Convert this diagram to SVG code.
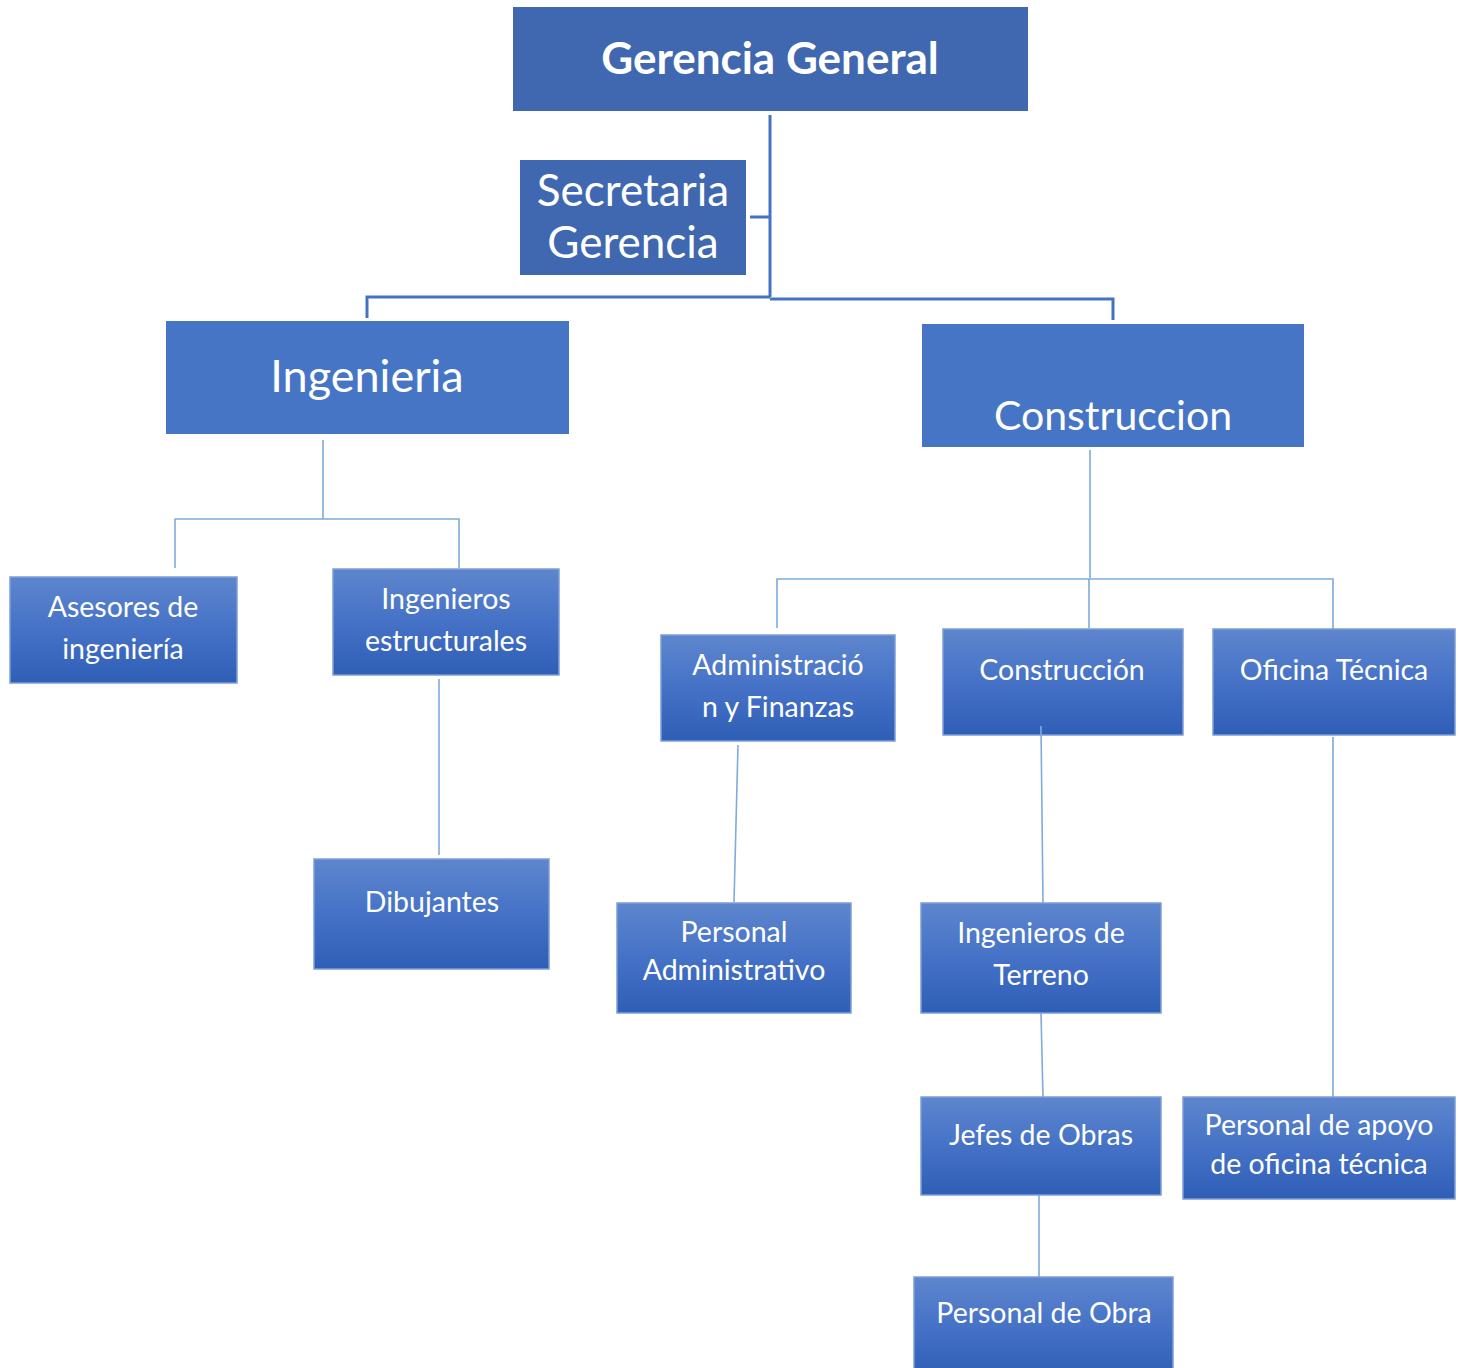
<svg xmlns="http://www.w3.org/2000/svg" width="1464" height="1368" viewBox="0 0 1464 1368">
<defs>
<linearGradient id="g" x1="0" y1="0" x2="0" y2="1">
<stop offset="0" stop-color="#5E86CD"/>
<stop offset="0.5" stop-color="#4572C7"/>
<stop offset="1" stop-color="#2F5EB6"/>
</linearGradient>
</defs>
<style>
.top{fill:#3F68B0}
.mid{fill:#4775C5}
.low{fill:url(#g);stroke:#7D9FD6;stroke-width:1.5}
text{font-family:Lato,"Open Sans","Liberation Sans",sans-serif;fill:#fff;text-anchor:middle}
.t1{font-size:44px;font-weight:bold}
.t2{font-size:44px}
.t3{font-size:28.5px}
.thick{stroke:#4472C4;stroke-width:3;fill:none}
.thin{stroke:#7FAADB;stroke-width:1.6;fill:none}
</style>
<rect width="1464" height="1368" fill="#fff"/>
<g id="connectors">
<path class="thick" d="M770 115V297M750 217H770M367 318V297H770M770 299H1113V320"/>
<path class="thin" d="M323 440V519M175 568V519H459V568M439 679V855"/>
<path class="thin" d="M1090 450V578M777 628V579H1333V629M1089 579V628"/>
<path class="thin" d="M738 745L734 902M1041 726L1043 903M1041 1013L1043 1097M1039 1195V1277M1333 737V1097"/>
</g>
<g id="gerencia-general"><rect class="top" x="513" y="7" width="515" height="104"/><text class="t1" x="770" y="74">Gerencia General</text></g>
<g id="secretaria"><rect class="top" x="520" y="160" width="226" height="115"/><text class="t2" x="633" y="206">Secretaria</text><text class="t2" x="633" y="258">Gerencia</text></g>
<g id="ingenieria"><rect class="mid" x="166" y="321" width="403" height="113"/><text class="t2" x="367" y="392" style="font-size:45px">Ingenieria</text></g>
<g id="construccion"><rect class="mid" x="922" y="324" width="382" height="123"/><text class="t2" x="1113" y="430" style="font-size:41px">Construccion</text></g>
<g id="asesores"><rect class="low" x="10" y="577" width="227" height="106"/><text class="t3" x="123" y="617">Asesores de</text><text class="t3" x="123" y="659">ingeniería</text></g>
<g id="ing-estructurales"><rect class="low" x="333" y="569" width="226" height="106"/><text class="t3" x="446" y="609">Ingenieros</text><text class="t3" x="446" y="651">estructurales</text></g>
<g id="dibujantes"><rect class="low" x="314" y="859" width="235" height="110"/><text class="t3" x="432" y="912">Dibujantes</text></g>
<g id="administracion"><rect class="low" x="661" y="635" width="234" height="106"/><text class="t3" x="778" y="675">Administració</text><text class="t3" x="778" y="717">n y Finanzas</text></g>
<g id="construccion-2"><rect class="low" x="943" y="629" width="240" height="106"/><text class="t3" x="1062" y="680">Construcción</text></g>
<g id="oficina-tecnica"><rect class="low" x="1213" y="629" width="242" height="106"/><text class="t3" x="1334" y="680">Oficina Técnica</text></g>
<g id="personal-administrativo"><rect class="low" x="617" y="903" width="234" height="110"/><text class="t3" x="734" y="942">Personal</text><text class="t3" x="734" y="980">Administrativo</text></g>
<g id="ingenieros-terreno"><rect class="low" x="921" y="903" width="240" height="110"/><text class="t3" x="1041" y="943">Ingenieros de</text><text class="t3" x="1041" y="985">Terreno</text></g>
<g id="jefes-obras"><rect class="low" x="921" y="1097" width="240" height="98"/><text class="t3" x="1041" y="1145">Jefes de Obras</text></g>
<g id="personal-obra"><rect class="low" x="914" y="1277" width="259" height="100"/><text class="t3" x="1044" y="1323">Personal de Obra</text></g>
<g id="personal-apoyo"><rect class="low" x="1183" y="1097" width="272" height="102"/><text class="t3" x="1319" y="1135">Personal de apoyo</text><text class="t3" x="1319" y="1174">de oficina técnica</text></g>
<path class="thin" d="M1041 726V735"/>
</svg>
